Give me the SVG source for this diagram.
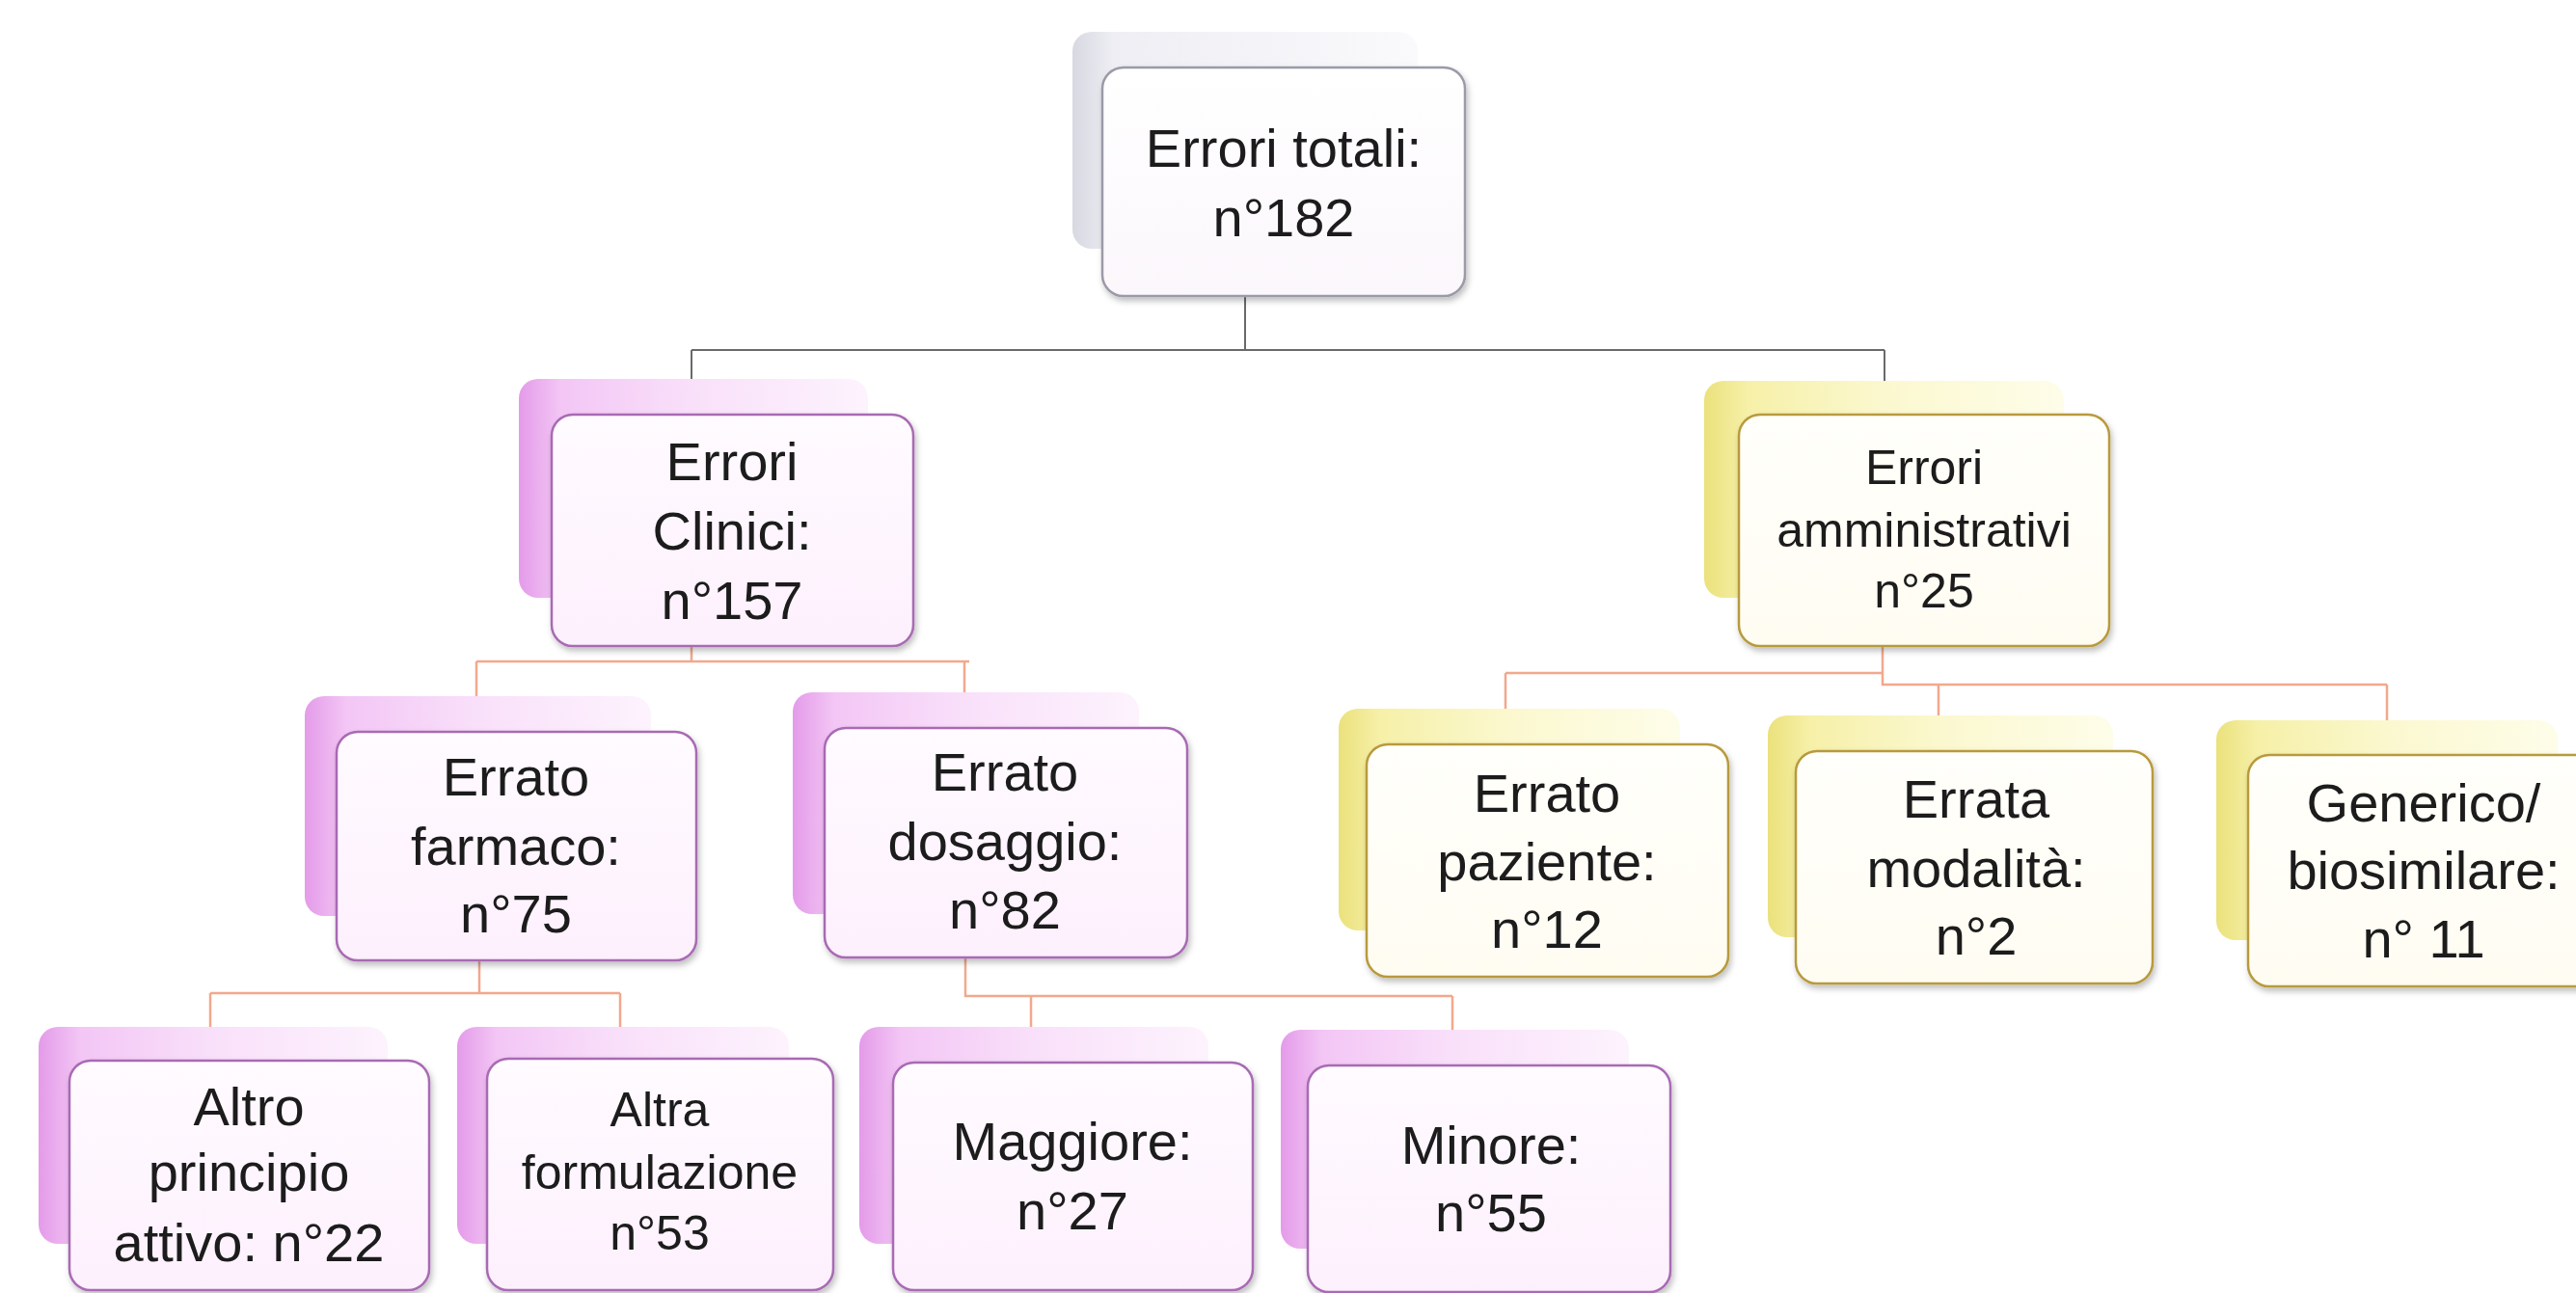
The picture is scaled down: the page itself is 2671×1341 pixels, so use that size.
<svg xmlns="http://www.w3.org/2000/svg" width="2671" height="1341" viewBox="0 0 2671 1341">
<defs>
<linearGradient id="gBackGray" x1="0" y1="0" x2="1" y2="0">
<stop offset="0" stop-color="#d8d8e2"/><stop offset="0.12" stop-color="#eeeef4"/><stop offset="1" stop-color="#fafafc"/>
</linearGradient>
<linearGradient id="gBackPink" x1="0" y1="0" x2="1" y2="0">
<stop offset="0" stop-color="#e49be9"/><stop offset="0.12" stop-color="#f3c6f5"/><stop offset="0.5" stop-color="#f9e0fa"/><stop offset="1" stop-color="#fdf3fd"/>
</linearGradient>
<linearGradient id="gBackYellow" x1="0" y1="0" x2="1" y2="0">
<stop offset="0" stop-color="#ebe17c"/><stop offset="0.12" stop-color="#f6f0a8"/><stop offset="0.5" stop-color="#fbf8cf"/><stop offset="1" stop-color="#fefde9"/>
</linearGradient>
<linearGradient id="gFrontGray" x1="0" y1="0" x2="0" y2="1">
<stop offset="0" stop-color="#ffffff"/><stop offset="1" stop-color="#fbf7fc"/>
</linearGradient>
<linearGradient id="gFrontPink" x1="0" y1="0" x2="0" y2="1">
<stop offset="0" stop-color="#fffbff"/><stop offset="1" stop-color="#fdf0fd"/>
</linearGradient>
<linearGradient id="gFrontYellow" x1="0" y1="0" x2="0" y2="1">
<stop offset="0" stop-color="#fffffb"/><stop offset="1" stop-color="#fffcf2"/>
</linearGradient>
<filter id="sh" x="-10%" y="-10%" width="125%" height="125%">
<feDropShadow dx="2" dy="4" stdDeviation="3" flood-color="#000000" flood-opacity="0.25"/>
</filter>
</defs>
<style>
.bg{fill:#ffffff}
.backGray{fill:url(#gBackGray)}
.backPink{fill:url(#gBackPink)}
.backYellow{fill:url(#gBackYellow)}
.frontGray{fill:url(#gFrontGray);stroke:#9a9aa8;stroke-width:2.5;filter:url(#sh)}
.frontPink{fill:url(#gFrontPink);stroke:#a86ab4;stroke-width:2.5;filter:url(#sh)}
.frontYellow{fill:url(#gFrontYellow);stroke:#b89a3c;stroke-width:2.5;filter:url(#sh)}
.t{font-family:"Liberation Sans",Arial,sans-serif;font-size:56px;fill:#1c1c1c;text-anchor:middle}
.ts{font-family:"Liberation Sans",Arial,sans-serif;font-size:50px;fill:#1c1c1c;text-anchor:middle}
.cg{fill:none;stroke:#6a6a6a;stroke-width:2}
.co{fill:none;stroke:#f2a88c;stroke-width:2.5}
</style>
<rect class="bg" x="0" y="0" width="2671" height="1341"/>

<g id="connectors">
<path class="cg" d="M1291,307 V363 M717,363 H1954 M717,363 V393 M1954,363 V395"/>
<path class="co" d="M717,670 V686 M494,686 H1005 M494,686 V722 M1000,686 V718"/>
<path class="co" d="M1952,670 V698 M1561,698 H1952 M1561,698 V735 M1952,698 V710 H2475 M2010,710 V742 M2475,710 V747"/>
<path class="co" d="M497,996 V1030 M218,1030 H643 M218,1030 V1065 M643,1030 V1065"/>
<path class="co" d="M1001,993 V1033 H1506 M1069,1033 V1065 M1506,1033 V1068"/>
</g>

<g id="node-totali">
<rect class="backGray" x="1112" y="33" width="358" height="225" rx="20"/>
<rect class="frontGray" x="1143" y="70" width="376" height="237" rx="22"/>
<text class="t" x="1331" y="173"><tspan x="1331">Errori totali:</tspan><tspan x="1331" y="245">n°182</tspan></text>
</g>

<g id="node-clinici">
<rect class="backPink" x="538" y="393" width="362" height="227" rx="20"/>
<rect class="frontPink" x="572" y="430" width="375" height="240" rx="22"/>
<text class="t" x="759" y="498"><tspan x="759">Errori</tspan><tspan x="759" y="570">Clinici:</tspan><tspan x="759" y="642">n°157</tspan></text>
</g>

<g id="node-amministrativi">
<rect class="backYellow" x="1767" y="395" width="373" height="225" rx="20"/>
<rect class="frontYellow" x="1803" y="430" width="384" height="240" rx="22"/>
<text class="ts" x="1995" y="502"><tspan x="1995">Errori</tspan><tspan x="1995" y="567">amministrativi</tspan><tspan x="1995" y="630">n°25</tspan></text>
</g>

<g id="node-farmaco">
<rect class="backPink" x="316" y="722" width="359" height="228" rx="20"/>
<rect class="frontPink" x="349" y="759" width="373" height="237" rx="22"/>
<text class="t" x="535" y="825"><tspan x="535">Errato</tspan><tspan x="535" y="897">farmaco:</tspan><tspan x="535" y="967">n°75</tspan></text>
</g>

<g id="node-dosaggio">
<rect class="backPink" x="822" y="718" width="359" height="230" rx="20"/>
<rect class="frontPink" x="855" y="755" width="376" height="238" rx="22"/>
<text class="t" x="1042" y="820"><tspan x="1042">Errato</tspan><tspan x="1042" y="892">dosaggio:</tspan><tspan x="1042" y="963">n°82</tspan></text>
</g>

<g id="node-paziente">
<rect class="backYellow" x="1388" y="735" width="354" height="230" rx="20"/>
<rect class="frontYellow" x="1417" y="772" width="375" height="241" rx="22"/>
<text class="t" x="1604" y="842"><tspan x="1604">Errato</tspan><tspan x="1604" y="913">paziente:</tspan><tspan x="1604" y="983">n°12</tspan></text>
</g>

<g id="node-modalita">
<rect class="backYellow" x="1833" y="742" width="358" height="230" rx="20"/>
<rect class="frontYellow" x="1862" y="779" width="370" height="241" rx="22"/>
<text class="t" x="2049" y="848"><tspan x="2049">Errata</tspan><tspan x="2049" y="920">modalità:</tspan><tspan x="2049" y="990">n°2</tspan></text>
</g>

<g id="node-generico">
<rect class="backYellow" x="2298" y="747" width="354" height="228" rx="20"/>
<rect class="frontYellow" x="2331" y="783" width="375" height="240" rx="22"/>
<text class="t" x="2513" y="852"><tspan x="2513">Generico/</tspan><tspan x="2513" y="922">biosimilare:</tspan><tspan x="2513" y="993">n° 11</tspan></text>
</g>

<g id="node-principio">
<rect class="backPink" x="40" y="1065" width="362" height="225" rx="20"/>
<rect class="frontPink" x="72" y="1100" width="373" height="238" rx="22"/>
<text class="t" x="258" y="1167"><tspan x="258">Altro</tspan><tspan x="258" y="1235">principio</tspan><tspan x="258" y="1308">attivo: n°22</tspan></text>
</g>

<g id="node-formulazione">
<rect class="backPink" x="474" y="1065" width="344" height="225" rx="20"/>
<rect class="frontPink" x="505" y="1098" width="359" height="240" rx="22"/>
<text class="ts" x="684" y="1168"><tspan x="684">Altra</tspan><tspan x="684" y="1233">formulazione</tspan><tspan x="684" y="1296">n°53</tspan></text>
</g>

<g id="node-maggiore">
<rect class="backPink" x="891" y="1065" width="362" height="225" rx="20"/>
<rect class="frontPink" x="926" y="1102" width="373" height="236" rx="22"/>
<text class="t" x="1112" y="1203"><tspan x="1112">Maggiore:</tspan><tspan x="1112" y="1275">n°27</tspan></text>
</g>

<g id="node-minore">
<rect class="backPink" x="1328" y="1068" width="361" height="227" rx="20"/>
<rect class="frontPink" x="1356" y="1105" width="376" height="235" rx="22"/>
<text class="t" x="1546" y="1207"><tspan x="1546">Minore:</tspan><tspan x="1546" y="1277">n°55</tspan></text>
</g>
</svg>
